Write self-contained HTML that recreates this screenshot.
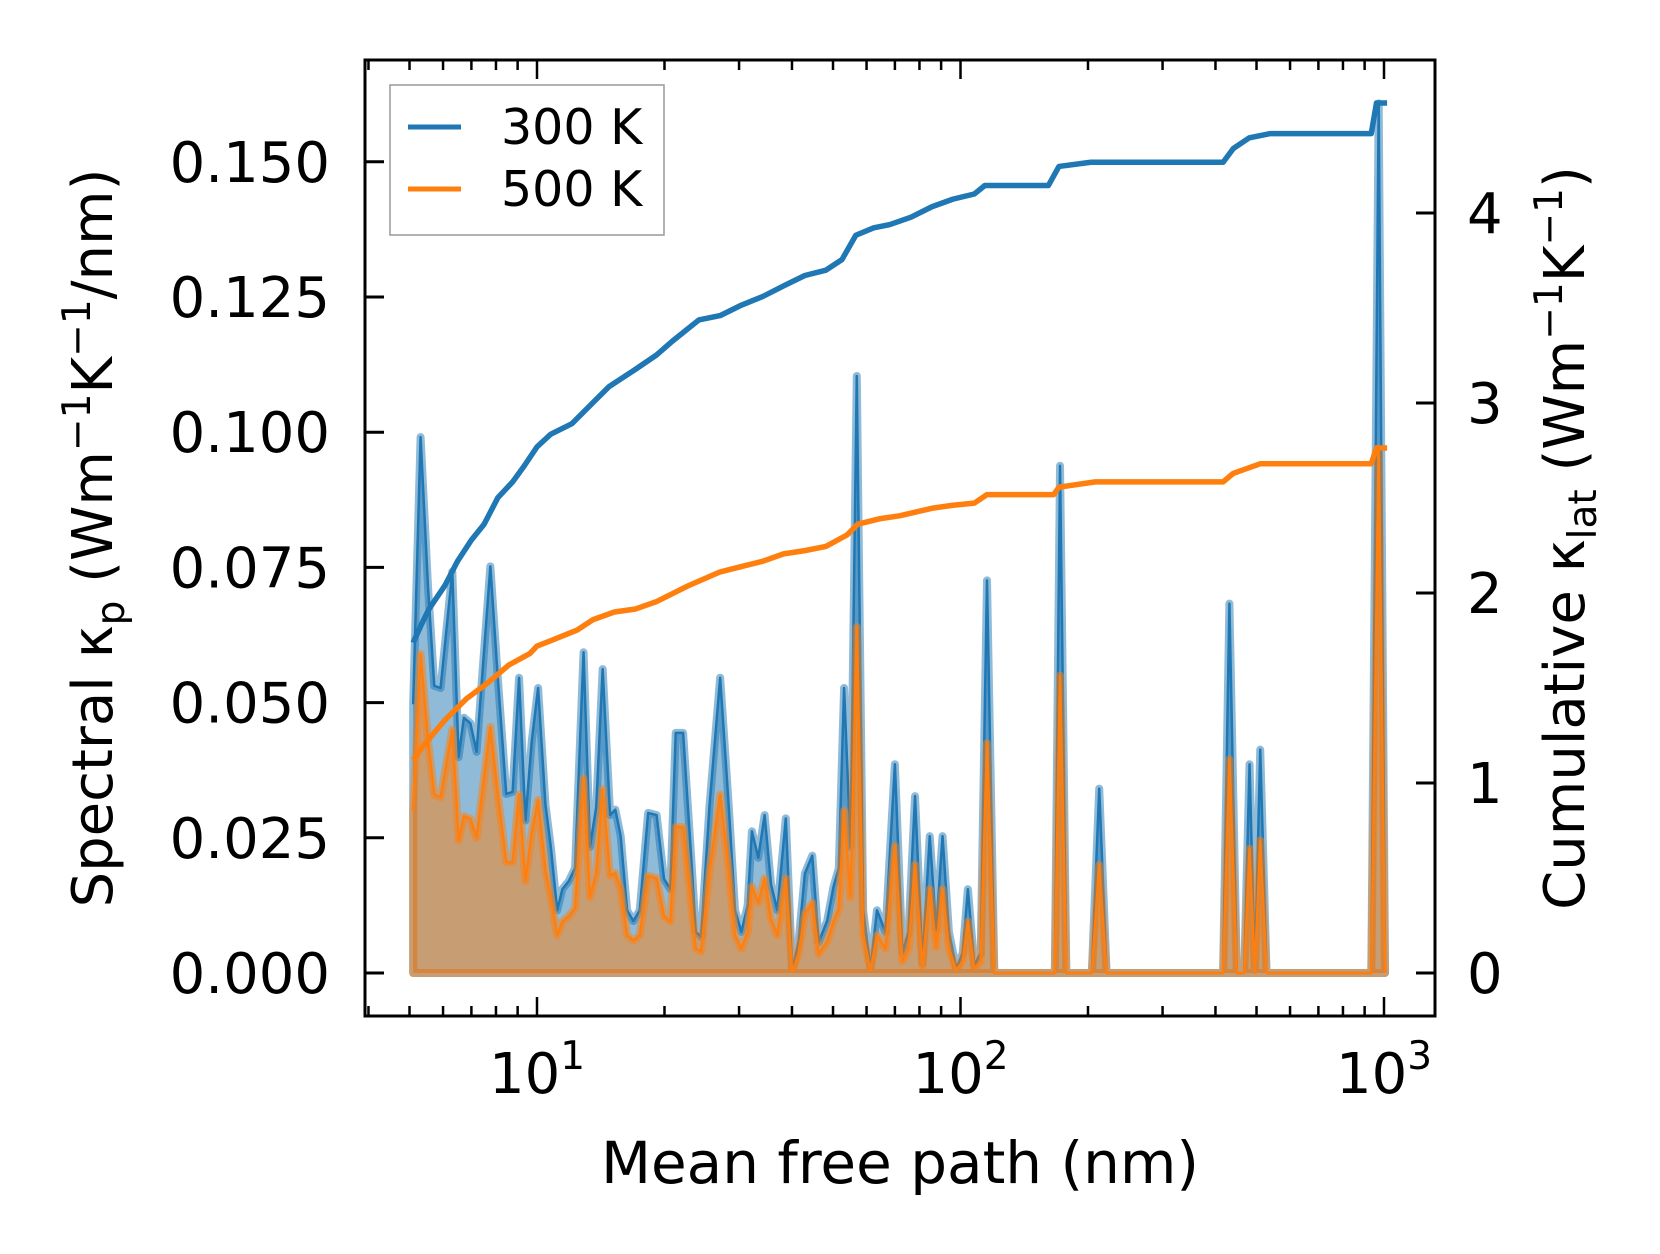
<!DOCTYPE html>
<html><head><meta charset="utf-8">
<style>
html,body{margin:0;padding:0;background:#fff;}
svg{display:block;font-family:"DejaVu Sans","Liberation Sans",sans-serif;}
</style></head>
<body>
<svg id="chart" width="1660" height="1254" viewBox="0 0 1660 1254" xmlns="http://www.w3.org/2000/svg">
<g id="plot"></g>
<g id="axes"></g>
</svg>
<script>
// spectral data (300 K)
const specMfp300 = [5.10,5.31,5.53,5.72,5.92,6.31,6.53,6.72,6.96,7.20,7.76,8.08,8.46,8.76,9.07,9.39,9.72,10.06,10.47,10.78,11.16,11.48,11.89,12.30,12.88,13.34,13.80,14.29,14.88,15.31,15.76,16.32,16.89,17.48,18.30,19.16,19.95,20.65,21.26,22.13,23.04,23.71,24.41,25.56,27.07,28.35,29.35,30.38,31.44,32.17,33.31,34.47,35.69,36.94,38.68,40.05,41.45,42.91,44.67,46.24,48.42,50.12,51.6,53.1,55.0,56.9,58.9,61.3,63.5,66.5,70.0,72.9,75.4,78.1,81.3,84.6,87.6,90.7,93.9,97.7,101.2,104.1,107.8,111.6,115.5,120.2,161.3,167.0,171.8,177.8,204.2,212.6,221.3,416.9,431.5,449.3,467.7,481.4,495.5,510.2,528.1,933.3,971.6,1005.8];
const spec300 = [0.0497,0.0991,0.0713,0.0531,0.0527,0.0742,0.0399,0.0472,0.0462,0.0409,0.0752,0.0546,0.0331,0.0335,0.0546,0.0282,0.0429,0.0527,0.0311,0.0233,0.0116,0.0155,0.0170,0.0194,0.0593,0.0233,0.0307,0.0562,0.0292,0.0302,0.0253,0.0116,0.0096,0.0116,0.0296,0.0292,0.0174,0.0155,0.0444,0.0444,0.0233,0.0076,0.0067,0.0311,0.0546,0.0311,0.0116,0.0076,0.0125,0.0262,0.0213,0.0292,0.0164,0.0116,0.0286,0.0004,0.0057,0.0184,0.0217,0.0057,0.0096,0.0159,0.0194,0.0527,0.0233,0.1104,0.0116,0.0008,0.0116,0.0076,0.0386,0.0037,0.0076,0.0327,0.0018,0.0253,0.0080,0.0253,0.0076,0.0008,0.0037,0.0155,0.0014,0.0037,0.0726,0,0,0,0.0938,0,0,0.0341,0,0,0.0683,0,0,0.0386,0,0.0413,0,0,0.1608,0];
// spectral data (500 K)
const spec500 = [0.0300,0.0590,0.0430,0.0330,0.0325,0.0450,0.0245,0.0290,0.0285,0.0250,0.0455,0.0330,0.0205,0.0205,0.0330,0.0170,0.0260,0.0320,0.0190,0.0140,0.0070,0.0095,0.0105,0.0120,0.0360,0.0140,0.0185,0.0340,0.0180,0.0185,0.0155,0.0070,0.0060,0.0070,0.0180,0.0175,0.0105,0.0095,0.0270,0.0270,0.0140,0.0045,0.0040,0.0190,0.0330,0.0190,0.0070,0.0045,0.0075,0.0160,0.0130,0.0175,0.0100,0.0070,0.0175,0.0002,0.0035,0.0110,0.0130,0.0035,0.0058,0.0095,0.0118,0.0300,0.0140,0.0640,0.0070,0.0005,0.0070,0.0045,0.0235,0.0022,0.0045,0.0200,0.0011,0.0155,0.0048,0.0155,0.0045,0.0005,0.0022,0.0095,0.0008,0.0022,0.0425,0,0,0,0.0550,0,0,0.0200,0,0,0.0395,0,0,0.0230,0,0.0245,0,0,0.0970,0];
// cumulative
const cumMfp300 = [5.10,5.33,5.56,6.06,6.49,7.00,7.50,8.08,8.76,9.33,10.0,10.78,12.09,13.57,14.79,16.89,19.16,20.89,24.1,27.07,30.38,34.1,38.2,42.9,48.1,52.5,56.6,62.4,68.1,76.4,85.6,96.0,107.8,114.2,161.3,170.8,203,417,441,481,539,933,960,1017];
const cum300 = [1.738,1.833,1.916,2.039,2.167,2.279,2.362,2.501,2.585,2.669,2.769,2.836,2.891,3.003,3.086,3.170,3.253,3.326,3.437,3.460,3.515,3.560,3.616,3.671,3.699,3.755,3.883,3.922,3.939,3.978,4.033,4.073,4.100,4.145,4.145,4.245,4.267,4.267,4.340,4.396,4.418,4.418,4.579,4.579];
const cumMfp500 = [5.10,5.37,6.06,6.81,7.64,8.58,9.63,10.0,10.78,12.44,13.57,15.23,17.1,19.16,22.8,27.07,30.38,34.1,38.2,42.9,48.1,54.0,57.2,64.2,72.0,85.6,96.0,107.8,115.5,166,170.8,208,417,441,510,933,960,1017];
const cum500 = [1.120,1.192,1.331,1.443,1.526,1.621,1.682,1.721,1.749,1.805,1.860,1.900,1.916,1.955,2.039,2.111,2.139,2.167,2.206,2.223,2.245,2.306,2.362,2.390,2.407,2.446,2.462,2.473,2.518,2.518,2.557,2.585,2.585,2.630,2.680,2.680,2.763,2.763];
const leftTicks = ["0.000","0.025","0.050","0.075","0.100","0.125","0.150"];
const rightTicks = ["0","1","2","3","4"];
const xTickExps = [1,2,3];

const L=365,R=1435,T=60,B=1016;
const xs = m => 537 + (Math.log10(m)-1)*423.5;
const yl = v => 973 - v*5408;
const yr = c => 973 - c*190;
const NS="http://www.w3.org/2000/svg";
const plot=document.getElementById('plot'), axes=document.getElementById('axes');
function mk(tag,attrs,parent){const e=document.createElementNS(NS,tag);for(const k in attrs)e.setAttribute(k,attrs[k]);parent.appendChild(e);return e;}

function drawSpec(vals,color,name){
  let d='M'+xs(specMfp300[0])+','+yl(0);
  let ld='';
  vals.forEach((v,i)=>{const p=xs(specMfp300[i])+','+yl(v);d+=' L'+p;ld+=(i?' L':'M')+p;});
  d+=' L'+xs(specMfp300[specMfp300.length-1])+','+yl(0)+' Z';
  const f=mk('path',{d:d,fill:color,'fill-opacity':0.5,stroke:color,'stroke-opacity':0.5,'stroke-width':8,'stroke-linejoin':'round'},plot);
  
  
  const l=mk('path',{d:ld,fill:'none',stroke:color,'stroke-width':2.5,'stroke-linejoin':'round'},plot);
  
  
}
drawSpec(spec300,'#1f77b4','spectral-300k');
drawSpec(spec500,'#ff7f0e','spectral-500k');

function drawCum(ms,vals,color,name){
  const d=vals.map((v,i)=>(i?'L':'M')+xs(ms[i])+','+yr(v)).join(' ');
  const l=mk('path',{d:d,fill:'none',stroke:color,'stroke-width':5.5,'stroke-linejoin':'round'},plot);
  
  
}
drawCum(cumMfp300,cum300,'#1f77b4','cumulative-300k');
drawCum(cumMfp500,cum500,'#ff7f0e','cumulative-500k');

const fr=mk('rect',{x:L,y:T,width:R-L,height:B-T,fill:'none',stroke:'#000','stroke-width':3},axes);



leftTicks.forEach((t,i)=>{
  const v=parseFloat(t),y=yl(v);
  mk('line',{x1:L,x2:L+19,y1:y,y2:y,stroke:'#000','stroke-width':3},axes);
  const tx=mk('text',{x:330,y:y+20,'text-anchor':'end','font-size':56},axes);
  tx.textContent=t;
  
  
});
rightTicks.forEach(t=>{
  const y=yr(parseFloat(t));
  mk('line',{x1:R-19,x2:R,y1:y,y2:y,stroke:'#000','stroke-width':3},axes);
  const tx=mk('text',{x:1467,y:y+20,'font-size':56},axes);
  tx.textContent=t;
  
  
});
for(let e=0;e<=3;e++){
  for(let k=1;k<10;k++){
    const m=k*Math.pow(10,e);const x=xs(m);
    if(x<L||x>R)continue;
    const len=k===1?19:10;
    mk('line',{x1:x,x2:x,y1:B,y2:B-len,stroke:'#000','stroke-width':2.5},axes);
    mk('line',{x1:x,x2:x,y1:T,y2:T+len,stroke:'#000','stroke-width':2.5},axes);
  }
}
xTickExps.forEach(e=>{
  const x=xs(Math.pow(10,e));
  const tx=mk('text',{x:x,y:1093,'text-anchor':'middle','font-size':56},axes);
  
  
  tx.appendChild(document.createTextNode('10'));
  const s=mk('tspan',{dy:-24,'font-size':39},tx);s.textContent=String(e);
});
</script>
<svg style="position:absolute;left:0;top:0" width="1660" height="1254" xmlns="http://www.w3.org/2000/svg" font-family="DejaVu Sans, Liberation Sans, sans-serif">
<text x="900" y="1183" text-anchor="middle" font-size="58">Mean free path (nm)</text>
<text transform="translate(112,538) rotate(-90)" text-anchor="middle" font-size="56">Spectral κ<tspan font-size="39" dy="12">p</tspan><tspan dy="-12"> (Wm</tspan><tspan font-size="39" dy="-22">−1</tspan><tspan dy="22">K</tspan><tspan font-size="39" dy="-22">−1</tspan><tspan dy="22">/nm)</tspan></text>
<text transform="translate(1584,538) rotate(-90)" text-anchor="middle" font-size="56">Cumulative κ<tspan font-size="39" dy="12">lat</tspan><tspan dy="-12"> (Wm</tspan><tspan font-size="39" dy="-22">−1</tspan><tspan dy="22">K</tspan><tspan font-size="39" dy="-22">−1</tspan><tspan dy="22">)</tspan></text>
<g>
<rect x="390" y="85" width="274" height="150" fill="#fff" fill-opacity="0.8" stroke="#999" stroke-width="1.5"/>
<line x1="408" x2="461" y1="127" y2="127" stroke="#1f77b4" stroke-width="5"/>
<text x="501" y="144" font-size="49">300 K</text>
<line x1="408" x2="461" y1="189" y2="189" stroke="#ff7f0e" stroke-width="5"/>
<text x="501" y="206" font-size="49">500 K</text>
</g>
</svg>
</body></html>
